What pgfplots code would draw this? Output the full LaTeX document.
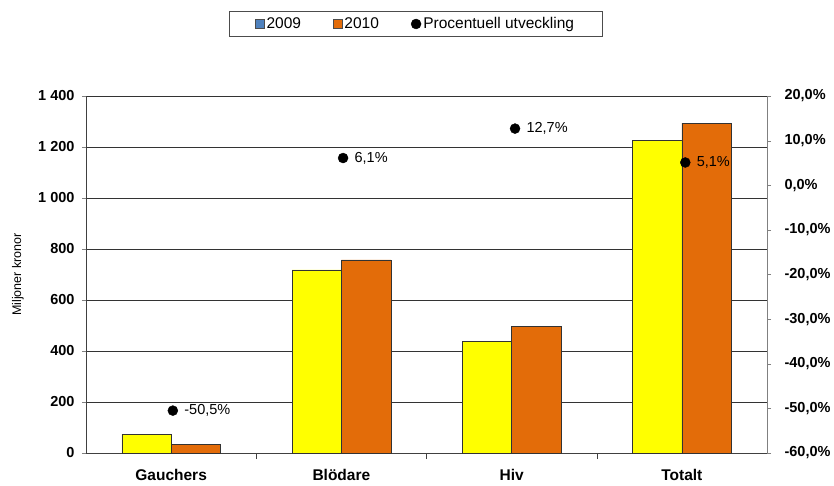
\documentclass[border=0pt]{standalone}
\usepackage{fontspec}
\setmainfont{Liberation Sans}
\usepackage{pgfplots}
\pgfplotsset{compat=1.18}

\definecolor{gul}{HTML}{FFFF00}
\definecolor{orange10}{HTML}{E36C09}
\definecolor{blue09}{HTML}{4F81BD}
\definecolor{axisgray}{HTML}{808080}

\newcommand{\lsq}[1]{\draw[draw=black!70, fill=#1] (0pt,-4.5pt) rectangle (9pt,4.5pt);}

\begin{document}
\begin{tikzpicture}[x=1pt,y=1pt]
\useasboundingbox (0,0) rectangle (834,485);

% left axis: Miljoner kronor
\begin{axis}[
    at={(86pt,32pt)}, anchor=south west,
    scale only axis, width=681pt, height=357pt,
    xmin=-0.5, xmax=3.5, ymin=0, ymax=1400,
    axis x line*=bottom, axis y line*=left,
    axis line style={black!75, -},
    ybar=0pt, bar width=0.29,
    xtick={0,1,2,3},
    xticklabels={Gauchers, Blödare, Hiv, Totalt},
    x tick label style={font=\fontsize{15.5}{17}\selectfont\bfseries, yshift=-9pt},
    major x tick style={draw=none},
    minor xtick={0.5,1.5,2.5},
    minor x tick style={black!75},
    minor tick length=6pt,
    ytick={0,200,...,1400},
    y tick label style={font=\fontsize{14.5}{16}\selectfont\bfseries, xshift=-4pt},
    /pgf/number format/assume math mode=true,
    /pgf/number format/1000 sep={\ },
    tick align=outside, major tick length=4pt,
    ymajorgrids, grid style={black!80, line width=0.5pt},
    ylabel={Miljoner kronor},
    every axis y label/.style={at={(-68pt,0.5)}, rotate=90, anchor=center,
        font=\fontsize{12.5}{14}\selectfont},
    legend columns=3,
    legend style={at={(0.484,1.2017)}, anchor=center, draw=black!70,
        font=\fontsize{15.5}{17}\selectfont,
        /tikz/every even column/.append style={column sep=30pt},
        inner xsep=26pt, inner ysep=4pt},
    legend cell align=left,
]
\addplot[draw=black!80, fill=gul, bar shift=-0.145, forget plot] coordinates {(0,74) (1,718) (2,439) (3,1227)};
\addplot[draw=black!80, fill=orange10, bar shift=0.145, forget plot] coordinates {(0,35) (1,757) (2,498) (3,1294)};
\addlegendimage{legend image code/.code={\lsq{blue09}}}
\addlegendentry{2009}
\addlegendimage{legend image code/.code={\lsq{orange10}}}
\addlegendentry{2010}
\addlegendimage{legend image code/.code={\fill[black] (4.5pt,0pt) circle (5pt);}}
\addlegendentry{Procentuell utveckling}
\end{axis}

% right axis: procentuell utveckling
\begin{axis}[
    at={(86pt,32pt)}, anchor=south west,
    scale only axis, width=681pt, height=357pt,
    xmin=-0.5, xmax=3.5, ymin=-60, ymax=20,
    axis x line=none, axis y line*=right,
    axis line style={axisgray, -},
    ytick={-60,-50,...,20},
    y tick style={axisgray},
    tick align=outside, major tick length=4pt,
    yticklabel={\pgfmathprintnumber[fixed, fixed zerofill, precision=1, use comma]{\tick}\%},
    y tick label style={font=\fontsize{14.5}{16}\selectfont\bfseries, xshift=10pt},
    /pgf/number format/assume math mode=true,
    nodes near coords={\pgfmathprintnumber[fixed, fixed zerofill, precision=1, use comma]{\pgfplotspointmeta}\%},
    nodes near coords style={anchor=west, xshift=8pt, font=\fontsize{14.5}{16}\selectfont},
    point meta=y,
]
\addplot[only marks, mark=*, mark size=5pt, mark options={fill=black, draw=black}]
    coordinates {(0.01,-50.5) (1.01,6.1) (2.02,12.7) (3.02,5.1)};
\end{axis}
\end{tikzpicture}
\end{document}
